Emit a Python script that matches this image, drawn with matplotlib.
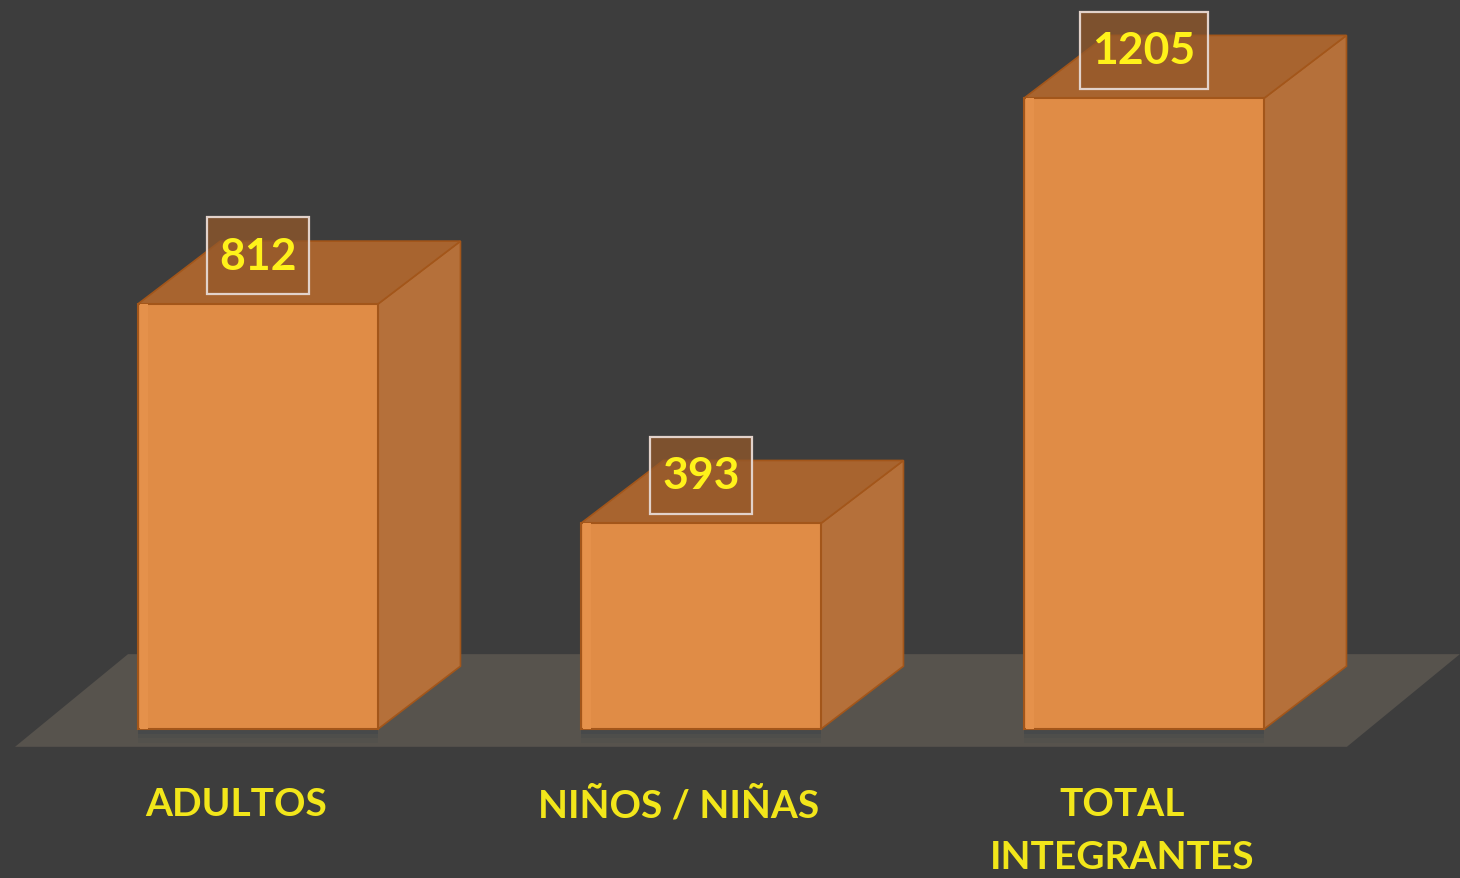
import matplotlib.pyplot as plt
from matplotlib.patches import Polygon, Rectangle
import numpy as np

# chart data
categories = ['ADULTOS', 'NIÑOS / NIÑAS', 'TOTAL\nINTEGRANTES']
values = [812, 393, 1205]

# colours
bg_color = '#3d3d3d'
floor_color = '#57534d'
front_color = '#e08c46'
side_color = '#b5703a'
top_color = '#a8642f'
edge_color = '#a3561a'
num_color = '#fff21a'
cat_color = '#f2e61a'

# geometry (x in category units, y in value units)
bar_w = 0.542
dx = 0.186      # depth offset, x
dy = 120        # depth offset, y

fig = plt.figure(figsize=(14.6, 8.79), dpi=100)
fig.patch.set_facecolor(bg_color)
ax = fig.add_axes([0, 0, 1, 1])
ax.set_facecolor(bg_color)
ax.set_xlim(-0.5824, 2.7133)
ax.set_ylim(-284.6, 1394.5)
ax.axis('off')

# floor
floor = Polygon([(-0.5485, -34), (2.458, -34), (2.713, 143), (-0.2935, 143)],
                closed=True, facecolor=floor_color, edgecolor='none', zorder=1)
ax.add_patch(floor)

x = np.arange(len(categories))
labels = []
for xi, v in zip(x, values):
    x0, x1 = xi - bar_w / 2, xi + bar_w / 2
    # soft shadow under the front face
    for k, a in enumerate([0.18, 0.12, 0.07]):
        ax.add_patch(Polygon([(x0, 0), (x1, 0), (x1, -10 - 8 * k), (x0, -10 - 8 * k)],
                             facecolor='#2c3c48', alpha=a, edgecolor='none', zorder=2))
    # side
    ax.add_patch(Polygon([(x1, 0), (x1 + dx, dy), (x1 + dx, v + dy), (x1, v)],
                         facecolor=side_color, edgecolor=edge_color, lw=1.2, zorder=3))
    # top
    ax.add_patch(Polygon([(x0, v), (x1, v), (x1 + dx, v + dy), (x0 + dx, v + dy)],
                         facecolor=top_color, edgecolor=edge_color, lw=1.2, zorder=3))
    # front
    ax.add_patch(Polygon([(x0, 0), (x1, 0), (x1, v), (x0, v)],
                         facecolor=front_color, edgecolor=edge_color, lw=1.5, zorder=4))
    # faint lighter strip on left of front face
    ax.add_patch(Polygon([(x0 + 0.004, 0), (x0 + 0.022, 0), (x0 + 0.022, v), (x0 + 0.004, v)],
                         facecolor='#e5914b', edgecolor='none', zorder=4))
    # value label
    t = ax.text(xi, v + 92, f'{v}', ha='center', va='center', fontsize=32,
                fontweight='bold', family=['Lato', 'DejaVu Sans'], color=num_color, zorder=7)
    labels.append(t)

# boxes around the value labels, padded more vertically than horizontally
fig.canvas.draw()
renderer = fig.canvas.get_renderer()
inv = ax.transData.inverted()
for t in labels:
    bb = t.get_window_extent(renderer)
    cx, cy = (bb.x0 + bb.x1) / 2, (bb.y0 + bb.y1) / 2
    w, h = bb.width + 24, 77
    (bx0, by0), (bx1, by1) = inv.transform([(cx - w / 2, cy - h / 2), (cx + w / 2, cy + h / 2)])
    ax.add_patch(Rectangle((bx0, by0), bx1 - bx0, by1 - by0, facecolor='#94582a', alpha=0.75,
                           edgecolor='none', zorder=5))
    ax.add_patch(Rectangle((bx0, by0), bx1 - bx0, by1 - by0, facecolor='none',
                           edgecolor='#e2d2ca', linewidth=1.6, zorder=6))

for xi, lab in zip(x, categories):
    ax.text(xi - 0.05, -108, lab, ha='center', va='top', fontsize=28,
            fontweight='bold', family=['Lato', 'DejaVu Sans'], color=cat_color,
            linespacing=1.65, zorder=6)

fig.savefig('out.png', dpi=100, facecolor=bg_color)
